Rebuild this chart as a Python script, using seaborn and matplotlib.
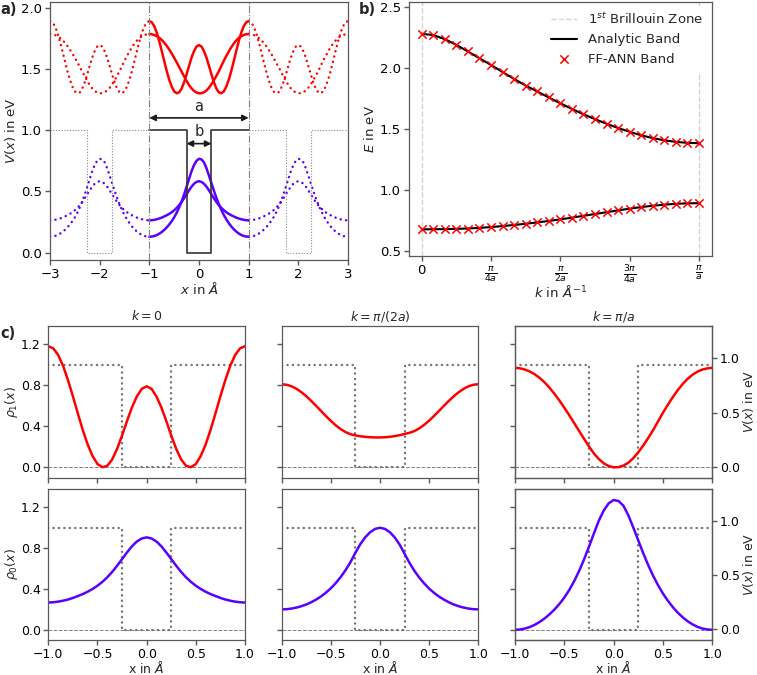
import numpy as np
import matplotlib
matplotlib.use("Agg")
import matplotlib.pyplot as plt
import seaborn as sns

# =====================================================
# DATA
# =====================================================

lattice_a = 2.0      # period in Angstrom
well_b = 0.5         # width of the well in Angstrom

# grid of one unit cell, x in Angstrom
x_cell = np.linspace(-1.0, 1.0, 41)

# potential of one cell (eV)
x_pot = [-1.0, -0.25, -0.25, 0.25, 0.25, 1.0]
v_pot = [1.0, 1.0, 0.0, 0.0, 1.0, 1.0]

# densities of the upper band (rho_1) for k = 0, pi/(2a), pi/a
rho1_k0 = [1.18, 1.16, 1.095, 0.99, 0.85, 0.693, 0.527, 0.366, 0.224, 0.111,
           0.033, 0.002, 0.016, 0.079, 0.182, 0.311, 0.451, 0.584, 0.69, 0.765,
           0.79,
           0.765, 0.69, 0.584, 0.451, 0.311, 0.182, 0.079, 0.016, 0.002, 0.033,
           0.111, 0.224, 0.366, 0.527, 0.693, 0.85, 0.99, 1.095, 1.16, 1.18]

rho1_khalf = [0.81, 0.805, 0.79, 0.766, 0.733, 0.694, 0.648, 0.6, 0.55, 0.5,
              0.453, 0.41, 0.373, 0.344, 0.323, 0.312, 0.303, 0.298, 0.294, 0.292,
              0.292,
              0.294, 0.298, 0.305, 0.314, 0.326, 0.337, 0.354, 0.381, 0.415, 0.456,
              0.502, 0.55, 0.6, 0.648, 0.693, 0.732, 0.765, 0.79, 0.805, 0.81]

rho1_kpi = [0.97, 0.965, 0.953, 0.934, 0.907, 0.872, 0.828, 0.776, 0.717, 0.652,
            0.582, 0.508, 0.432, 0.355, 0.278, 0.204, 0.136, 0.081, 0.040, 0.014,
            0.001,
            0.003, 0.018, 0.047, 0.091, 0.148, 0.214, 0.286, 0.363, 0.448, 0.533,
            0.611, 0.685, 0.753, 0.813, 0.863, 0.903, 0.933, 0.953, 0.965, 0.97]

# densities of the lower band (rho_0)
rho0_k0 = [0.267, 0.27, 0.276, 0.285, 0.297, 0.312, 0.331, 0.35, 0.373, 0.4,
           0.432, 0.47, 0.515, 0.568, 0.628, 0.693, 0.758, 0.818, 0.865, 0.895,
           0.906,
           0.895, 0.865, 0.818, 0.758, 0.693, 0.628, 0.568, 0.515, 0.47, 0.432,
           0.4, 0.373, 0.35, 0.331, 0.312, 0.297, 0.285, 0.276, 0.27, 0.267]

rho0_khalf = [0.2, 0.202, 0.208, 0.218, 0.231, 0.248, 0.27, 0.296, 0.327, 0.364,
              0.407, 0.458, 0.517, 0.585, 0.664, 0.755, 0.84, 0.907, 0.957, 0.989,
              1.0,
              0.989, 0.957, 0.905, 0.835, 0.745, 0.656, 0.578, 0.511, 0.454, 0.404,
              0.362, 0.326, 0.296, 0.27, 0.248, 0.231, 0.218, 0.208, 0.202, 0.2]

rho0_kpi = [0.0, 0.003, 0.012, 0.027, 0.049, 0.077, 0.111, 0.152, 0.199, 0.253,
            0.316, 0.39, 0.477, 0.577, 0.69, 0.815, 0.945, 1.07, 1.17, 1.24,
            1.272,
            1.262, 1.215, 1.12, 1.0, 0.875, 0.75, 0.635, 0.53, 0.437, 0.355,
            0.284, 0.222, 0.168, 0.122, 0.084, 0.053, 0.029, 0.012, 0.003, 0.0]

# band structure, 25 k points over the first Brillouin zone
k_vals = np.linspace(0.0, np.pi / lattice_a, 25)

band_upper = [2.281, 2.271, 2.237, 2.190, 2.136, 2.080, 2.025, 1.967, 1.910,
              1.856, 1.807, 1.758, 1.710, 1.664, 1.620, 1.580, 1.542, 1.507,
              1.476, 1.447, 1.424, 1.406, 1.393, 1.385, 1.382]

band_lower = [0.674, 0.675, 0.676, 0.678, 0.681, 0.686, 0.693, 0.701, 0.710,
              0.720, 0.731, 0.743, 0.756, 0.770, 0.785, 0.800, 0.815, 0.830,
              0.844, 0.857, 0.868, 0.877, 0.884, 0.888, 0.889]

# scaling used to place the densities in panel a
dens_scale = 0.5
offset_upper = 1.3
offset_lower = 0.13

k_tick_labels = [r"$0$", r"$\frac{\pi}{4a}$", r"$\frac{\pi}{2a}$",
                 r"$\frac{3\pi}{4a}$", r"$\frac{\pi}{a}$"]
c_titles = [r"$k=0$", r"$k=\pi/(2a)$", r"$k=\pi/a$"]

# =====================================================
# STYLE
# =====================================================

sns.set_theme(style="ticks", context="paper")
FS = 9.5
FS_C = 9.0
plt.rcParams.update({
    "font.family": ["DejaVu Sans"],
    "mathtext.fontset": "dejavusans",
    "font.size": FS,
    "axes.labelsize": FS,
    "axes.titlesize": FS,
    "xtick.labelsize": FS,
    "ytick.labelsize": FS,
    "legend.fontsize": FS,
    "axes.edgecolor": "0.35",
    "axes.linewidth": 0.9,
    "xtick.color": "0.35",
    "ytick.color": "0.35",
    "xtick.labelcolor": "black",
    "ytick.labelcolor": "black",
    "xtick.major.size": 3.5,
    "ytick.major.size": 3.5,
    "xtick.major.pad": 2.5,
    "ytick.major.pad": 2.5,
})

RED = "#ff0000"
BLUE = "#5a00ff"
DOTS = (0, (0.1, 2.2))

W, H = 757, 675
fig = plt.figure(figsize=(W / 100, H / 100), dpi=100)


def box(left, top, right, bottom):
    return [left / W, 1 - bottom / H, (right - left) / W, (bottom - top) / H]


# =====================================================
# PANEL a
# =====================================================

ax_a = fig.add_axes(box(50, 1.5, 348, 260))

x_cell_arr = np.asarray(x_cell)
for rho, off in [(rho1_k0, offset_upper), (rho1_kpi, offset_upper),
                 (rho0_k0, offset_lower), (rho0_kpi, offset_lower)]:
    col = RED if off == offset_upper else BLUE
    y = off + dens_scale * np.asarray(rho)
    sns.lineplot(x=x_cell_arr, y=y, ax=ax_a, color=col, lw=1.8)
    for shift in (-lattice_a, lattice_a):
        sns.lineplot(x=x_cell_arr + shift, y=y, ax=ax_a, color=col,
                     lw=1.7, linestyle=DOTS, dash_capstyle="round")

ax_a.plot(x_pot, v_pot, color="0.2", lw=1.2)
for shift in (-lattice_a, lattice_a):
    ax_a.plot(np.asarray(x_pot) + shift, v_pot, color="0.55", lw=0.8,
              linestyle=(0, (1, 1.5)))

for xv in (-lattice_a / 2, lattice_a / 2):
    ax_a.axvline(xv, color="0.5", lw=0.8, linestyle="-.")

arrow = dict(arrowstyle="<|-|>", color="k", lw=1.2, mutation_scale=9,
             shrinkA=0, shrinkB=0)
ax_a.annotate("", xy=(-lattice_a / 2, 1.1), xytext=(lattice_a / 2, 1.1),
              arrowprops=arrow)
ax_a.text(0, 1.135, "a", ha="center", va="bottom", fontsize=10.5)
ax_a.annotate("", xy=(-well_b / 2, 0.89), xytext=(well_b / 2, 0.89),
              arrowprops=arrow)
ax_a.text(0, 0.925, "b", ha="center", va="bottom", fontsize=10.5)

ax_a.set_xlim(-3, 3)
ax_a.set_ylim(-0.06, 2.05)
ax_a.set_xticks([-3, -2, -1, 0, 1, 2, 3])
ax_a.set_yticks([0.0, 0.5, 1.0, 1.5, 2.0])
ax_a.set_xlabel(r"$x$ in $\AA$", labelpad=0)
ax_a.set_ylabel(r"$V(x)$ in eV", labelpad=2)

# =====================================================
# PANEL b
# =====================================================

ax_b = fig.add_axes(box(409, 1.7, 712, 256))

for i, kv in enumerate([0.0, np.pi / lattice_a]):
    ax_b.axvline(kv, color="0.83", lw=1.0, linestyle="--",
                 label=r"$1^{st}$ Brillouin Zone" if i == 0 else None)

sns.lineplot(x=k_vals, y=band_upper, ax=ax_b, color="black", lw=1.5,
             label="Analytic Band")
sns.lineplot(x=k_vals, y=band_lower, ax=ax_b, color="black", lw=1.5)
sns.scatterplot(x=k_vals, y=band_upper, ax=ax_b, color=RED, marker="x",
                s=36, linewidth=1.1, label="FF-ANN Band", zorder=3)
sns.scatterplot(x=k_vals, y=band_lower, ax=ax_b, color=RED, marker="x",
                s=36, linewidth=1.1, zorder=3)

ax_b.set_xlim(-0.072, 1.645)
ax_b.set_ylim(0.455, 2.545)
ax_b.set_xticks(np.pi / lattice_a * np.array([0, 0.25, 0.5, 0.75, 1.0]))
ax_b.set_xticklabels(k_tick_labels)
ax_b.set_yticks([0.5, 1.0, 1.5, 2.0, 2.5])
ax_b.set_xlabel(r"$k$ in $\AA^{-1}$", labelpad=-2)
ax_b.set_ylabel(r"$E$ in eV", labelpad=2)
leg = ax_b.legend(loc="upper right", frameon=True, framealpha=1.0,
                  edgecolor="white", borderaxespad=0.3)

# =====================================================
# PANEL c
# =====================================================

col_edges = [(48.3, 245.0), (281.7, 478.3), (515.0, 712.3)]
row_edges = [(325.7, 477.7), (489.0, 640.0)]
rows = [[rho1_k0, rho1_khalf, rho1_kpi], [rho0_k0, rho0_khalf, rho0_kpi]]
row_colors = [RED, BLUE]
row_labels = [r"$\rho_1(x)$", r"$\rho_0(x)$"]

for r, (top, bottom) in enumerate(row_edges):
    for c, (left, right) in enumerate(col_edges):
        ax = fig.add_axes(box(left, top, right, bottom))
        ax.axhline(0, color="0.5", lw=0.7, linestyle="--")
        ax.plot(x_pot, v_pot, color="0.45", lw=1.7, linestyle=DOTS,
                dash_capstyle="round")
        sns.lineplot(x=x_cell_arr, y=rows[r][c], ax=ax,
                     color=row_colors[r], lw=1.8)
        ax.set_xlim(-1, 1)
        ax.set_ylim(-0.1, 1.38)
        ax.set_xticks([-1.0, -0.5, 0.0, 0.5, 1.0])
        ax.set_yticks([0.0, 0.4, 0.8, 1.2])
        ax.tick_params(labelsize=FS_C, pad=2)
        if c == 0:
            ax.set_ylabel(row_labels[r], labelpad=0.5, fontsize=FS_C)
        else:
            ax.set_yticklabels([])
        if r == 0:
            ax.set_xticklabels([])
            ax.set_title(c_titles[c], pad=4, fontsize=FS_C)
        else:
            ax.set_xlabel(r"x in $\AA$", labelpad=-0.5, fontsize=FS_C)
        if c == 2:
            tw = ax.twinx()
            tw.set_ylim(-0.1, 1.3)
            tw.set_yticks([0.0, 0.5, 1.0])
            tw.tick_params(labelsize=FS_C, pad=2)
            tw.set_ylabel(r"$V(x)$ in eV", labelpad=0.5, fontsize=FS_C)

# =====================================================
# PANEL LABELS
# =====================================================

fig.text(0.0, 1 - 10 / H, "a)", fontweight="bold", fontsize=10.5,
         va="center", ha="left")
fig.text(359 / W, 1 - 10 / H, "b)", fontweight="bold", fontsize=10.5,
         va="center", ha="left")
fig.text(0.0, 1 - 333 / H, "c)", fontweight="bold", fontsize=10.5,
         va="center", ha="left")

fig.savefig("out.png", dpi=100)
